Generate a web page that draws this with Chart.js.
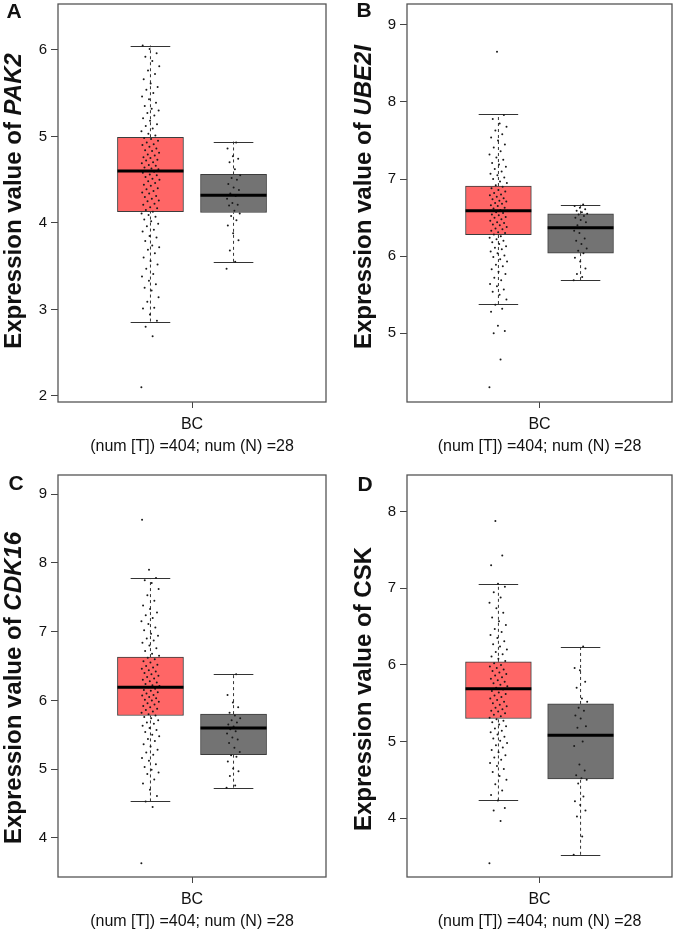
<!DOCTYPE html>
<html>
<head>
<meta charset="utf-8">
<script src="https://cdn.jsdelivr.net/npm/chart.js@4.4.0/dist/chart.umd.min.js"></script>
<style>
  body { margin: 0; background: #fff; font-family: "Liberation Sans", Arial, sans-serif; }
  #wrap { position: relative; width: 676px; height: 929px; overflow: hidden; }
  .panel { position: absolute; }
  .letter { position: absolute; font-weight: bold; font-size: 21px; color: #111; transform: translate(-50%, -50%); }
  .ytitle { position: absolute; font-weight: bold; font-size: 24px; color: #111; white-space: nowrap;
            transform: translate(-50%, -50%) rotate(-90deg); }
</style>
</head>
<body>
<div id="wrap"></div>
<script>
// box stats: [lower whisker, Q1, median, Q3, upper whisker]
const categories = [['BC', '(num [T]) =404; num (N) =28']];
const genes = ['PAK2', 'UBE2I', 'CDK16', 'CSK'];
const geneItalic = [true, true, true, false];

const tumorBoxes = [
  [2.86, 4.13, 4.60, 4.99, 6.05],
  [5.38, 6.28, 6.59, 6.91, 7.84],
  [4.53, 5.78, 6.19, 6.63, 7.78],
  [4.23, 5.30, 5.69, 6.04, 7.06]
];
const normalBoxes = [
  [3.55, 4.12, 4.32, 4.56, 4.94],
  [5.69, 6.04, 6.37, 6.55, 6.67],
  [4.73, 5.21, 5.60, 5.80, 6.38],
  [3.52, 4.51, 5.08, 5.49, 6.24]
];

const yMins = [1.93, 4.11, 3.43, 3.23];
const yMaxs = [6.53, 9.27, 9.28, 8.48];
const yTicks = [
  [2, 3, 4, 5, 6],
  [5, 6, 7, 8, 9],
  [4, 5, 6, 7, 8, 9],
  [4, 5, 6, 7, 8]
];

// individual samples
const pak2Tumor = [2.1, 2.69, 2.8, 2.87, 2.94, 3.01, 3.02, 3.09, 3.14, 3.22, 3.25, 3.29, 3.33, 3.38, 3.41, 3.47, 3.52, 3.56,
  3.6, 3.65, 3.69, 3.72, 3.74, 3.79, 3.83, 3.85, 3.9, 3.92, 3.96, 3.99, 4.02, 4.04, 4.07, 4.09, 4.11,
  4.13, 4.15, 4.17, 4.18, 4.21, 4.22, 4.25, 4.26, 4.28, 4.3, 4.31, 4.34, 4.35, 4.37, 4.39, 4.4, 4.43, 4.44, 4.46,
  4.48, 4.5, 4.51, 4.53, 4.55, 4.56, 4.58, 4.59, 4.6, 4.62, 4.63, 4.64, 4.66, 4.67, 4.69, 4.7, 4.72, 4.73, 4.75,
  4.76, 4.78, 4.79, 4.81, 4.83, 4.84, 4.86, 4.88, 4.9, 4.91, 4.93, 4.95, 4.97, 4.98, 5.01, 5.03, 5.06, 5.09,
  5.12, 5.14, 5.18, 5.21, 5.24, 5.27, 5.3, 5.32, 5.35, 5.39, 5.43, 5.46, 5.5, 5.54, 5.57, 5.61, 5.66, 5.72,
  5.76, 5.81, 5.87, 5.92, 5.96, 6.01, 6.05];
const pak2Normal = [3.47, 3.55, 3.68, 3.8, 3.88, 3.97, 4.03, 4.08, 4.11, 4.14, 4.2, 4.21, 4.23, 4.28, 4.31, 4.34,
  4.38, 4.41, 4.45, 4.5, 4.52, 4.55, 4.62, 4.7, 4.74, 4.77, 4.86, 4.93];

const ube2iTumor = [4.3, 4.66, 5.0, 5.03, 5.1, 5.28, 5.32, 5.37, 5.44, 5.5, 5.54, 5.57, 5.61, 5.64, 5.69, 5.72, 5.77,
  5.8, 5.83, 5.87, 5.89, 5.93, 5.96, 5.99, 6.01, 6.04, 6.06, 6.09, 6.11, 6.13, 6.16, 6.18, 6.2, 6.22, 6.24, 6.26,
  6.28, 6.3, 6.31, 6.33, 6.35, 6.36, 6.38, 6.4, 6.41, 6.43, 6.44, 6.46, 6.48, 6.5, 6.51, 6.53, 6.54, 6.56, 6.57,
  6.59, 6.6, 6.62, 6.63, 6.65, 6.66, 6.68, 6.69, 6.71, 6.72, 6.74, 6.75, 6.77, 6.79, 6.8, 6.82, 6.84, 6.86,
  6.88, 6.9, 6.92, 6.95, 6.97, 7.0, 7.02, 7.05, 7.07, 7.1, 7.13, 7.16, 7.19, 7.21, 7.25, 7.28, 7.32, 7.36,
  7.41, 7.45, 7.5, 7.54, 7.58, 7.63, 7.68, 7.72, 7.78, 7.83, 8.65];
const ube2iNormal = [5.69, 5.73, 5.77, 5.84, 5.93, 5.98, 6.04, 6.07, 6.1, 6.16, 6.2, 6.23, 6.3, 6.33, 6.37, 6.4,
  6.44, 6.47, 6.5, 6.52, 6.54, 6.55, 6.57, 6.59, 6.61, 6.63, 6.65, 6.67];

const cdk16Tumor = [3.63, 4.45, 4.53, 4.61, 4.7, 4.79, 4.85, 4.93, 4.95, 4.99, 5.03, 5.07, 5.12, 5.16, 5.21, 5.24,
  5.28, 5.33, 5.36, 5.41, 5.44, 5.48, 5.5, 5.54, 5.57, 5.6, 5.63, 5.66, 5.68, 5.71, 5.74, 5.76,
  5.78, 5.8, 5.82, 5.84, 5.86, 5.88, 5.9, 5.92, 5.94, 5.96, 5.98, 6.0, 6.01, 6.03, 6.05, 6.07, 6.08, 6.1, 6.12,
  6.14, 6.15, 6.17, 6.19, 6.21, 6.22, 6.24, 6.26, 6.28, 6.3, 6.32, 6.34, 6.36, 6.38, 6.4, 6.42, 6.44, 6.46,
  6.48, 6.5, 6.52, 6.55, 6.57, 6.6, 6.62, 6.65, 6.68, 6.72, 6.76, 6.8, 6.84, 6.87, 6.9, 6.94, 6.97, 7.02,
  7.06, 7.11, 7.15, 7.2, 7.24, 7.28, 7.33, 7.38, 7.45, 7.53, 7.62, 7.71, 7.75, 7.78, 7.9, 8.63];
const cdk16Normal = [4.73, 4.76, 4.9, 4.97, 5.01, 5.11, 5.18, 5.2, 5.25, 5.31, 5.38, 5.43, 5.46, 5.52, 5.55, 5.58,
  5.6, 5.62, 5.65, 5.68, 5.71, 5.74, 5.78, 5.82, 5.9, 5.97, 6.08, 6.38];

const cskTumor = [3.41, 3.96, 4.1, 4.13, 4.23, 4.3, 4.36, 4.44, 4.5, 4.55, 4.6, 4.64, 4.68, 4.72, 4.76, 4.79, 4.82,
  4.86, 4.89, 4.92, 4.95, 4.98, 5.01, 5.04, 5.06, 5.09, 5.12, 5.14, 5.17, 5.2, 5.22, 5.25, 5.27, 5.29,
  5.31, 5.33, 5.35, 5.37, 5.39, 5.4, 5.42, 5.44, 5.46, 5.48, 5.5, 5.52, 5.54, 5.56, 5.58, 5.6, 5.62, 5.64, 5.66,
  5.68, 5.7, 5.72, 5.74, 5.76, 5.78, 5.8, 5.82, 5.84, 5.86, 5.88, 5.9, 5.92, 5.94, 5.96, 5.98, 6.0, 6.02,
  6.05, 6.08, 6.11, 6.14, 6.17, 6.2, 6.24, 6.27, 6.31, 6.35, 6.39, 6.43, 6.47, 6.52, 6.57, 6.62, 6.68,
  6.74, 6.81, 6.88, 6.95, 7.02, 7.06, 7.3, 7.43, 7.88];
const cskNormal = [3.52, 3.76, 4.02, 4.1, 4.17, 4.22, 4.28, 4.45, 4.5, 4.52, 4.56, 4.62, 4.7, 4.94, 5.0, 5.18,
  5.2, 5.3, 5.34, 5.4, 5.44, 5.52, 5.56, 5.7, 5.78, 5.93, 5.96, 6.24];

const tumorPoints = [pak2Tumor, ube2iTumor, cdk16Tumor, cskTumor];
const normalPoints = [pak2Normal, ube2iNormal, cdk16Normal, cskNormal];

// layout of the four panels (pixels)
const layout = [
  { letter: 'A', left: 0,   top: 0,   w: 338, h: 460, axisW: 58, padTop: 1,  padRight: 12, xH: 58, tx: 13,  ty: 201, lx: 14,  ly: 11 },
  { letter: 'B', left: 338, top: 0,   w: 338, h: 460, axisW: 69, padTop: 1,  padRight: 2,  xH: 58, tx: 363, ty: 197, lx: 364, ly: 10 },
  { letter: 'C', left: 0,   top: 460, w: 338, h: 469, axisW: 58, padTop: 15, padRight: 12, xH: 52, tx: 13,  ty: 688, lx: 16,  ly: 483 },
  { letter: 'D', left: 338, top: 460, w: 338, h: 469, axisW: 69, padTop: 15, padRight: 2,  xH: 52, tx: 363, ty: 689, lx: 365, ly: 484 }
];

// group layout: tumor box left of the category centre, normal box right of it
const CAT = 0.62, BAR = 0.795;
const tumorX = -CAT / 4, normalX = CAT / 4;
const FONT = '"Liberation Sans", Arial, sans-serif';
Chart.defaults.font.family = FONT;
Chart.defaults.color = '#111';

function jitter(vals, center, spread) {
  return vals.map((v, i) => ({ x: center + (((i * 0.618034) % 1) - 0.5) * 2 * spread, y: v }));
}

const boxExtras = {
  id: 'boxExtras',
  beforeDatasetsDraw(chart) {
    const ctx = chart.ctx, y = chart.scales.y;
    ctx.save();
    ctx.strokeStyle = '#333';
    ctx.lineWidth = 1;
    chart.data.datasets.forEach((ds, i) => {
      if (!ds.stats) return;
      const bar = chart.getDatasetMeta(i).data[0];
      const s = ds.stats;
      const cap = bar.width * 0.3;
      ctx.setLineDash([3, 3]);
      ctx.beginPath();
      ctx.moveTo(bar.x, y.getPixelForValue(s[0]));
      ctx.lineTo(bar.x, y.getPixelForValue(s[1]));
      ctx.moveTo(bar.x, y.getPixelForValue(s[3]));
      ctx.lineTo(bar.x, y.getPixelForValue(s[4]));
      ctx.stroke();
      ctx.setLineDash([]);
      ctx.beginPath();
      [s[0], s[4]].forEach(v => {
        const py = Math.round(y.getPixelForValue(v)) + 0.5;
        ctx.moveTo(bar.x - cap, py);
        ctx.lineTo(bar.x + cap, py);
      });
      ctx.stroke();
    });
    ctx.restore();
  },
  afterDatasetsDraw(chart) {
    const ctx = chart.ctx, y = chart.scales.y, a = chart.chartArea;
    ctx.save();
    chart.data.datasets.forEach((ds, i) => {
      if (!ds.stats) return;
      const bar = chart.getDatasetMeta(i).data[0];
      const py = y.getPixelForValue(ds.stats[2]);
      ctx.strokeStyle = '#000';
      ctx.lineWidth = 3;
      ctx.beginPath();
      ctx.moveTo(bar.x - bar.width / 2, py);
      ctx.lineTo(bar.x + bar.width / 2, py);
      ctx.stroke();
    });
    ctx.strokeStyle = '#555';
    ctx.lineWidth = 1.3;
    ctx.strokeRect(a.left, a.top, a.right - a.left, a.bottom - a.top);
    ctx.restore();
  }
};

const wrap = document.getElementById('wrap');

layout.forEach((p, k) => {
  const holder = document.createElement('div');
  holder.className = 'panel';
  holder.style.left = p.left + 'px';
  holder.style.top = p.top + 'px';
  holder.style.width = p.w + 'px';
  holder.style.height = p.h + 'px';
  const canvas = document.createElement('canvas');
  holder.appendChild(canvas);
  wrap.appendChild(holder);

  const title = document.createElement('div');
  title.className = 'ytitle';
  title.style.left = p.tx + 'px';
  title.style.top = p.ty + 'px';
  title.innerHTML = 'Expression value of ' + (geneItalic[k] ? '<i>' + genes[k] + '</i>' : genes[k]);
  wrap.appendChild(title);

  const letter = document.createElement('div');
  letter.className = 'letter';
  letter.style.left = p.lx + 'px';
  letter.style.top = p.ly + 'px';
  letter.textContent = p.letter;
  wrap.appendChild(letter);

  const plotW = p.w - p.axisW - p.padRight;
  const boxW = plotW * CAT / 2 * BAR;

  new Chart(canvas, {
    type: 'bar',
    data: {
      labels: categories,
      datasets: [
        {
          label: 'Tumor', xAxisID: 'xj', yAxisID: 'y',
          data: [{ x: tumorX, y: [tumorBoxes[k][1], tumorBoxes[k][3]] }], stats: tumorBoxes[k],
          backgroundColor: '#ff6666', borderColor: '#3c3c3c', borderWidth: 1, borderSkipped: false,
          grouped: false, barThickness: boxW, order: 1
        },
        {
          label: 'Normal', xAxisID: 'xj', yAxisID: 'y',
          data: [{ x: normalX, y: [normalBoxes[k][1], normalBoxes[k][3]] }], stats: normalBoxes[k],
          backgroundColor: '#737373', borderColor: '#3c3c3c', borderWidth: 1, borderSkipped: false,
          grouped: false, barThickness: boxW, order: 1
        },
        {
          type: 'scatter', label: 'Tumor samples', xAxisID: 'xj', yAxisID: 'y', grouped: false,
          data: jitter(tumorPoints[k], tumorX, 0.034),
          pointRadius: 1, pointBackgroundColor: '#1a1a1a', pointBorderWidth: 0, order: 0
        },
        {
          type: 'scatter', label: 'Normal samples', xAxisID: 'xj', yAxisID: 'y', grouped: false,
          data: jitter(normalPoints[k], normalX, 0.026),
          pointRadius: 1, pointBackgroundColor: '#1a1a1a', pointBorderWidth: 0, order: 0
        }
      ]
    },
    options: {
      responsive: true,
      maintainAspectRatio: false,
      animation: false,
      layout: { padding: { left: 0, top: p.padTop, right: p.padRight, bottom: 0 } },
      plugins: { legend: { display: false }, tooltip: { enabled: false } },
      scales: {
        x: {
          type: 'category', offset: true,
          afterFit: s => { s.height = p.xH; s.paddingLeft = 0; s.paddingRight = 0; },
          border: { display: false },
          grid: { offset: false, drawOnChartArea: false, tickLength: 6, color: '#444' },
          ticks: { font: { size: 16, lineHeight: 1.375 }, color: '#111', padding: 6, maxRotation: 0, autoSkip: false }
        },
        xj: { type: 'linear', min: -0.5, max: 0.5, offset: false, display: false },
        y: {
          min: yMins[k], max: yMaxs[k],
          afterBuildTicks: s => { s.ticks = yTicks[k].map(v => ({ value: v })); },
          afterFit: s => { s.width = p.axisW; s.paddingTop = 0; s.paddingBottom = 0; },
          border: { display: false },
          grid: { drawOnChartArea: false, tickLength: 7, color: '#444' },
          ticks: { font: { size: 15 }, color: '#111', padding: 4 }
        }
      }
    },
    plugins: [boxExtras]
  });
});
</script>
</body>
</html>
